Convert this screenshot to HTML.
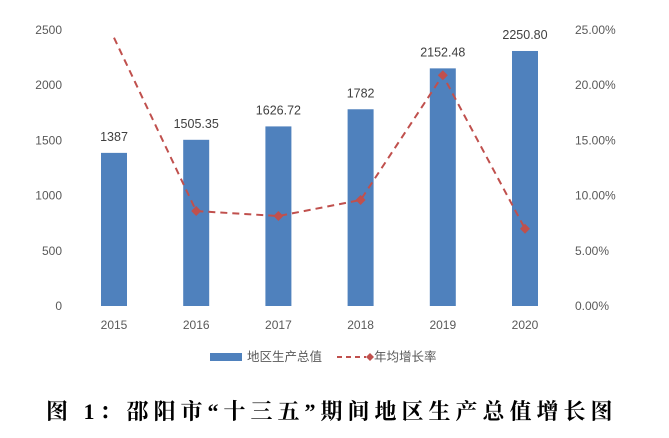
<!DOCTYPE html>
<html><head><meta charset="utf-8"><style>
body{margin:0;background:#fff}
svg text{font-family:"Liberation Sans","Noto Sans CJK SC",sans-serif}
</style></head><body>
<svg id="c" width="669" height="433">
<g id="axes"></g><g id="bars"></g><g id="line"></g>
<g>
<rect x="210" y="353" width="32" height="8" fill="#4f81bd"/>
<text x="247" y="361" font-size="12.5" fill="#595959">地区生产总值</text>
<line x1="337" y1="357" x2="366" y2="357" stroke="#c0504d" stroke-width="2" stroke-dasharray="5,4"/>
<path d="M370,353 L374,357 L370,361 L366,357Z" fill="#c0504d"/>
<text x="374" y="361" font-size="12.5" fill="#595959">年均增长率</text>
</g>
<text x="46" y="419" font-size="22" letter-spacing="5" font-weight="bold" style='font-family:"Liberation Serif","Noto Serif CJK SC",serif' fill="#000">图 1：邵阳市“十三五”期间地区生产总值增长图</text>
</svg>
<script>
const years=["2015","2016","2017","2018","2019","2020"];
const gdp=[1387,1505.35,1626.72,1782,2152.48,2310];
const gdpLabels=["1387","1505.35","1626.72","1782","2152.48","2250.80"];
const growth=[24.3,8.6,8.15,9.6,20.9,7.0];
const leftTicks=[0,500,1000,1500,2000,2500];
const rightTicks=["0.00%","5.00%","10.00%","15.00%","20.00%","25.00%"];
const NS="http://www.w3.org/2000/svg";
const y0=306,yTop=30;
const yL=v=>y0-v/2500*(y0-yTop);
const yR=v=>y0-v/25*(y0-yTop);
const xC=i=>114+i*82.2;
function mk(t,a,p){const e=document.createElementNS(NS,t);for(const k in a)e.setAttribute(k,a[k]);p.appendChild(e);return e;}
const ax=document.getElementById('axes'),bg=document.getElementById('bars'),lg=document.getElementById('line');
leftTicks.forEach((t,i)=>{const e=mk('text',{x:62,y:yL(t)+4,'text-anchor':'end','font-size':12,fill:'#595959'},ax);e.textContent=t;


const r=mk('text',{x:575,y:yL(t)+4,'font-size':12,fill:'#595959'},ax);r.textContent=rightTicks[i];

});
years.forEach((yr,i)=>{const e=mk('text',{x:xC(i),y:329,'text-anchor':'middle','font-size':12,fill:'#595959'},ax);e.textContent=yr;


const b=mk('rect',{x:xC(i)-13,y:yL(gdp[i]),width:26,height:y0-yL(gdp[i]),fill:'#4f81bd'},bg);


const l=mk('text',{x:xC(i),y:yL(gdp[i])-12,'text-anchor':'middle','font-size':12.5,fill:'#404040'},bg);l.textContent=gdpLabels[i];

});
const pts=growth.map((g,i)=>xC(i)+','+yR(g)).join(' ');
const pl=mk('polyline',{points:pts,fill:'none',stroke:'#c0504d','stroke-width':2,'stroke-dasharray':'7,5'},lg);


growth.forEach((g,i)=>{if(i===0)return;const x=xC(i),y=yR(g);
const d=mk('path',{d:`M${x},${y-5}L${x+5},${y}L${x},${y+5}L${x-5},${y}Z`,fill:'#c0504d'},lg);

});
</script>
</body></html>
